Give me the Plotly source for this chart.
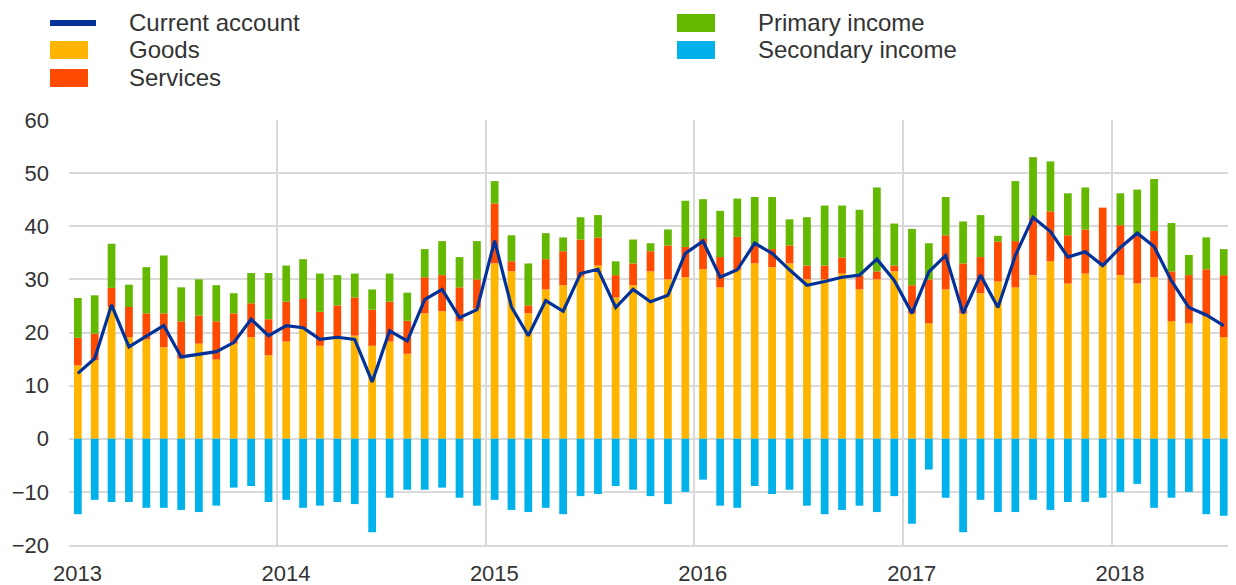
import pandas as pd
import plotly.graph_objects as go

# ---------------- data (EUR billions, monthly, Jan 2013 - Jul 2018) ----------------
months = pd.date_range("2013-01-01", periods=67, freq="MS")

goods = [13.8, 14.8, 24.8, 19.1, 18.7, 17.2, 15.1, 17.9, 14.9, 17.9, 19.1, 15.7,
         18.3, 20.8, 17.5, 19.1, 19.4, 17.5, 18.3, 16.0, 23.6, 24.0, 22.1, 24.5,
         33.0, 31.5, 23.6, 28.1, 28.9, 30.5, 32.6, 26.6, 28.9, 31.5, 30.0, 30.4,
         31.9, 28.5, 31.8, 33.0, 32.3, 33.0, 30.0, 30.0, 31.1, 28.1, 30.0, 31.5,
         23.6, 21.7, 28.1, 23.6, 27.4, 29.6, 28.5, 30.8, 33.4, 29.2, 31.1, 32.6,
         30.8, 29.2, 30.4, 22.1, 21.7, 23.0, 19.1]

services = [5.2, 5.0, 3.6, 5.7, 4.9, 6.4, 7.0, 5.3, 7.2, 5.7, 6.4, 6.8,
            7.5, 5.5, 6.4, 6.0, 7.2, 6.8, 7.5, 6.2, 6.8, 6.8, 6.4, 5.5,
            11.3, 1.9, 1.5, 5.7, 6.4, 7.0, 5.3, 4.2, 4.1, 3.8, 6.4, 5.7,
            5.7, 5.7, 6.2, 3.4, 3.4, 3.4, 2.6, 2.6, 3.0, 2.6, 1.5, 1.1,
            5.3, 8.3, 10.2, 9.4, 6.8, 7.5, 8.7, 10.9, 9.4, 9.1, 8.3, 10.9,
            9.4, 9.4, 8.7, 9.4, 9.1, 8.9, 11.7]

primary_income = [7.5, 7.2, 8.3, 4.2, 8.7, 10.9, 6.4, 6.8, 6.8, 3.8, 5.7, 8.7,
                  6.8, 7.5, 7.2, 5.7, 4.5, 3.8, 5.3, 5.3, 5.3, 6.4, 5.7, 7.2,
                  4.2, 4.9, 7.9, 4.9, 2.6, 4.2, 4.2, 2.6, 4.5, 1.5, 3.0, 8.7,
                  7.5, 8.7, 7.2, 9.1, 9.8, 4.9, 9.1, 11.3, 9.8, 12.4, 15.8, 7.9,
                  10.6, 6.8, 7.2, 7.9, 7.9, 1.1, 11.3, 11.3, 9.4, 7.9, 7.9, 0.0,
                  6.0, 8.3, 9.8, 9.1, 3.8, 6.0, 4.9]

secondary_income = [-14.2, -11.5, -11.9, -11.9, -13.0, -13.0, -13.4, -13.8, -12.6, -9.2, -8.9, -11.9,
                    -11.5, -13.0, -12.6, -11.9, -12.3, -17.6, -11.1, -9.6, -9.6, -9.2, -11.1, -12.6,
                    -11.5, -13.4, -13.8, -13.0, -14.2, -10.8, -10.4, -8.9, -9.6, -10.8, -12.3, -10.0,
                    -7.7, -12.6, -13.0, -8.9, -10.4, -9.6, -12.6, -14.2, -13.4, -12.6, -13.8, -10.8,
                    -16.0, -5.8, -11.1, -17.6, -11.5, -13.8, -13.8, -11.5, -13.4, -11.9, -11.9, -11.1,
                    -10.0, -8.5, -13.0, -11.1, -10.0, -14.2, -14.5]

current_account = [12.3, 15.1, 25.2, 17.3, 19.3, 21.3, 15.4, 15.9, 16.4, 18.1, 22.5, 19.4,
                   21.3, 20.9, 18.7, 19.1, 18.7, 10.7, 20.3, 18.4, 26.2, 28.1, 22.8, 24.3,
                   37.3, 24.8, 19.4, 26.0, 24.0, 31.1, 31.9, 24.7, 28.1, 25.8, 27.0, 34.9,
                   37.2, 30.4, 31.8, 36.8, 34.9, 31.8, 28.9, 29.6, 30.4, 30.8, 33.8, 29.8,
                   23.6, 31.4, 34.5, 23.6, 30.8, 24.7, 34.5, 41.7, 39.0, 34.2, 35.2, 32.6,
                   36.0, 38.7, 36.2, 29.7, 24.7, 23.3, 21.3]

years = ["2013", "2014", "2015", "2016", "2017", "2018"]
y_ticks = [-20, -10, 0, 10, 20, 30, 40, 50, 60]

# ---------------- styling ----------------
C_CA = "#003299"
C_GOODS = "#FFB400"
C_SERV = "#FF4B00"
C_PRIM = "#65B800"
C_SEC = "#00B1EA"
GRID = "#d9d9d9"
TXT = "#333333"
FONT = "Liberation Sans, Arial, sans-serif"

# page body adds an 8px offset on every side; keep the figure inside the window
OFF = 8
W, H = 1236 - 2 * OFF, 585 - OFF
ML, MR, MT, MB = 69 - OFF, 0, 120 - OFF, 40

fig = go.Figure()
bar_common = dict(x=months, xperiod="M1", xperiodalignment="middle",
                  marker_line_width=0, showlegend=False, hoverinfo="x+y")
fig.add_trace(go.Bar(y=goods, name="Goods", marker_color=C_GOODS, **bar_common))
fig.add_trace(go.Bar(y=services, name="Services", marker_color=C_SERV, **bar_common))
fig.add_trace(go.Bar(y=primary_income, name="Primary income", marker_color=C_PRIM, **bar_common))
fig.add_trace(go.Bar(y=secondary_income, name="Secondary income", marker_color=C_SEC, **bar_common))
fig.add_trace(go.Scatter(x=months, y=current_account, name="Current account",
                         xperiod="M1", xperiodalignment="middle",
                         mode="lines", line=dict(color=C_CA, width=3.2),
                         showlegend=False))

year_starts = [pd.Timestamp(f"{y}-01-01") for y in years]
year_label_pos = [pd.Timestamp(f"{y}-01-16") for y in years]

fig.update_layout(
    width=W, height=H,
    margin=dict(l=ML, r=MR, t=MT, b=MB),
    barmode="relative",
    bargap=0.54,
    plot_bgcolor="white", paper_bgcolor="white",
    font=dict(family=FONT, color=TXT, size=22),
    xaxis=dict(
        type="date",
        range=[pd.Timestamp("2013-01-01"), pd.Timestamp("2018-07-24")],
        tickmode="array", tickvals=year_label_pos, ticktext=years,
        showgrid=False, zeroline=False,
        showline=True, linecolor=GRID, linewidth=2,
        ticks="", ticklabelstandoff=8,
        tickfont=dict(size=22, color=TXT),
        minor=dict(tickmode="array", tickvals=year_starts, showgrid=True,
                   gridcolor=GRID, gridwidth=2, ticks=""),
    ),
    yaxis=dict(
        range=[-20, 60], tickmode="array", tickvals=y_ticks,
        showgrid=True, gridcolor=GRID, gridwidth=2,
        zeroline=False, showline=False,
        ticks="", ticklabelstandoff=19,
        tickfont=dict(size=22, color=TXT),
    ),
)

# ---------------- manual legend (two columns above the plot) ----------------
plot_w = W - ML - MR
plot_h = H - MT - MB


def px_x(px):
    # px given in reference-page pixels
    return (px - OFF - ML) / plot_w


def px_y(py):
    return (H - MB - (py - OFF)) / plot_h


legend_items = [
    ("Current account", "line", C_CA, 50, 96, 23, 127),
    ("Goods", "box", C_GOODS, 50, 88, 50, 127),
    ("Services", "box", C_SERV, 50, 88, 78, 127),
    ("Primary income", "box", C_PRIM, 677, 715, 23, 756),
    ("Secondary income", "box", C_SEC, 677, 715, 50, 756),
]
for label, kind, col, x0, x1, yc, tx in legend_items:
    half = 3 if kind == "line" else 9
    fig.add_shape(type="rect", xref="paper", yref="paper",
                  x0=px_x(x0), x1=px_x(x1), y0=px_y(yc + half), y1=px_y(yc - half),
                  fillcolor=col, line_width=0)
    fig.add_annotation(text=label, xref="paper", yref="paper",
                       x=px_x(tx), y=px_y(yc), xanchor="left", yanchor="middle",
                       showarrow=False, font=dict(size=24, color=TXT, family=FONT))

fig.write_html("out.html")
